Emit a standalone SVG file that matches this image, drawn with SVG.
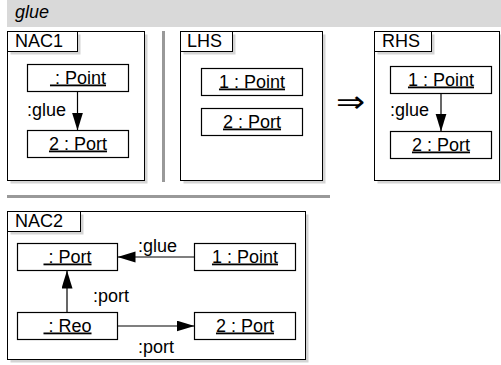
<svg xmlns="http://www.w3.org/2000/svg" width="501" height="365" viewBox="0 0 501 365">
<style>
text{font-family:"Liberation Sans",Arial,sans-serif;font-size:18px;fill:#000}
.frame{fill:#fff;stroke:#000;stroke-width:1}
.shadow{fill:#d4d4d4;stroke:none}
.node{fill:#fff;stroke:#000;stroke-width:1.2}
.nl{text-anchor:middle;text-decoration:underline}
.edge{stroke:#000;stroke-width:1.2;fill:none;marker-end:url(#ah)}
.sep{fill:#999}
.impl{font-family:"DejaVu Sans",sans-serif;font-size:30px;font-weight:200}
</style>
<defs>
<marker id="ah" markerUnits="userSpaceOnUse" markerWidth="20" markerHeight="12" refX="18" refY="5.5" orient="auto">
<path d="M0,0 L18,5.5 L0,11 Z" fill="#000"/>
</marker>
</defs>
<rect x="7" y="0" width="494" height="27" fill="#d9d9d9"/>
<text x="15" y="18" font-style="italic">glue</text>
<rect class="sep" x="162" y="31" width="3" height="151"/>
<rect class="sep" x="7" y="195" width="323" height="3"/>
<text class="impl" x="336" y="112" textLength="29" lengthAdjust="spacingAndGlyphs">⇒</text>
<g id="NAC1">
<rect class="shadow" x="10.5" y="34.5" width="137" height="149"/>
<rect class="frame" x="7.5" y="31.5" width="137" height="149"/>
<rect class="shadow" x="10.5" y="34.5" width="70" height="20"/>
<rect class="frame" x="7.5" y="31.5" width="70" height="20"/>
<text x="15" y="47">NAC1</text>
</g>
<g id="NAC1-p">
<rect class="node" x="27.5" y="64.5" width="101" height="27"/>
<text class="nl" x="78" y="83.5">&#160;: Point</text>
</g>
<g id="NAC1-port">
<rect class="node" x="27.5" y="130.5" width="101" height="27"/>
<text class="nl" x="78" y="149.5">2 : Port</text>
</g>
<g id="LHS">
<rect class="shadow" x="183.5" y="34.5" width="142" height="149"/>
<rect class="frame" x="180.5" y="31.5" width="142" height="149"/>
<rect class="shadow" x="183.5" y="34.5" width="52" height="20"/>
<rect class="frame" x="180.5" y="31.5" width="52" height="20"/>
<text x="187" y="47">LHS</text>
</g>
<g id="LHS-p">
<rect class="node" x="201.5" y="68.5" width="101" height="27"/>
<text class="nl" x="252" y="87.5">1 : Point</text>
</g>
<g id="LHS-port">
<rect class="node" x="201.5" y="108.5" width="101" height="27"/>
<text class="nl" x="252" y="127.5">2 : Port</text>
</g>
<g id="RHS">
<rect class="shadow" x="377.5" y="34.5" width="125" height="149"/>
<rect class="frame" x="374.5" y="31.5" width="125" height="149"/>
<rect class="shadow" x="377.5" y="34.5" width="57" height="20"/>
<rect class="frame" x="374.5" y="31.5" width="57" height="20"/>
<text x="382" y="47">RHS</text>
</g>
<g id="RHS-p">
<rect class="node" x="390.5" y="66.5" width="101" height="27"/>
<text class="nl" x="441" y="85.5">1 : Point</text>
</g>
<g id="RHS-port">
<rect class="node" x="390.5" y="131.5" width="101" height="27"/>
<text class="nl" x="441" y="150.5">2 : Port</text>
</g>
<g id="NAC2">
<rect class="shadow" x="10.5" y="214.5" width="298" height="148"/>
<rect class="frame" x="7.5" y="211.5" width="298" height="148"/>
<rect class="shadow" x="10.5" y="214.5" width="73" height="20"/>
<rect class="frame" x="7.5" y="211.5" width="73" height="20"/>
<text x="15" y="227">NAC2</text>
</g>
<g id="NAC2-port">
<rect class="node" x="17.5" y="243.5" width="100" height="27"/>
<text class="nl" x="67.5" y="262.5">&#160;: Port</text>
</g>
<g id="NAC2-p">
<rect class="node" x="194.5" y="243.5" width="101" height="27"/>
<text class="nl" x="245" y="262.5">1 : Point</text>
</g>
<g id="NAC2-reo">
<rect class="node" x="17.5" y="312.5" width="100" height="27"/>
<text class="nl" x="67.5" y="331.5">&#160;: Reo</text>
</g>
<g id="NAC2-port2">
<rect class="node" x="194.5" y="312.5" width="101" height="27"/>
<text class="nl" x="245" y="331.5">2 : Port</text>
</g>
<g id="connectors">
<line class="edge" x1="77.5" y1="91.5" x2="77.5" y2="130.5"/>
<text x="27" y="115.5">:glue</text>
<line class="edge" x1="441" y1="93.5" x2="441" y2="131.5"/>
<text x="390" y="116">:glue</text>
<line class="edge" x1="194.5" y1="257" x2="117.5" y2="257"/>
<text x="138" y="252">:glue</text>
<line class="edge" x1="67" y1="312.5" x2="67" y2="270.5"/>
<text x="93" y="302">:port</text>
<line class="edge" x1="117.5" y1="326" x2="194.5" y2="326"/>
<text x="138" y="353">:port</text>
</g>
</svg>
